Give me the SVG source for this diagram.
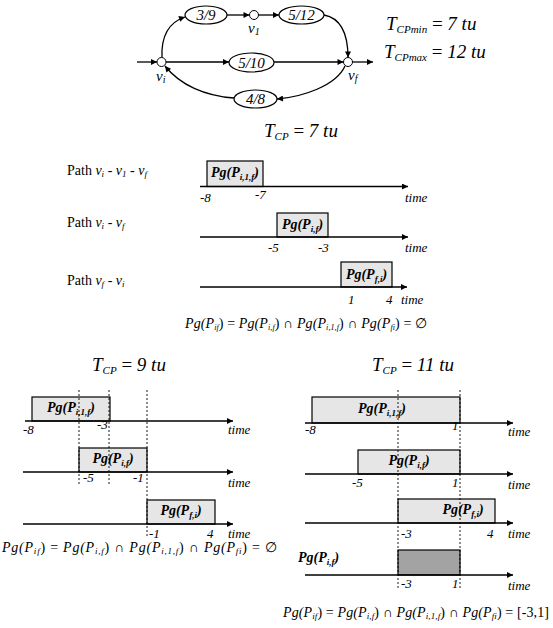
<svg xmlns="http://www.w3.org/2000/svg" width="553" height="628" viewBox="0 0 553 628">
<style>
text{font-family:"Liberation Serif","Times New Roman",Times,serif;fill:#000}
.i{font-style:italic}
.el{fill:#fff;stroke:#000;stroke-width:1.2}
.nd{fill:#fff;stroke:#000;stroke-width:1}
.ed{fill:none;stroke:#000;stroke-width:1.3}
.ax{fill:none;stroke:#000;stroke-width:1.3}
.bx{fill:#e6e6e6;stroke:#000;stroke-width:1.2}
.dk{fill:#a3a3a3;stroke:#000;stroke-width:1.2}
.ds{stroke:#000;stroke-width:0.9;stroke-dasharray:2,2}
.el-t{font-size:15px;font-style:italic;text-anchor:middle}
.bl{font-size:14px;font-style:italic;font-weight:bold;text-anchor:middle}
.bl2{font-size:14px;font-style:italic;font-weight:bold}
.n{font-size:13px;font-style:italic}
.tm{font-size:13px;font-style:italic}
.pl{font-size:14px}
.big{font-size:19px}
.fm{font-size:14px;font-style:italic}
</style>
<defs>
<marker id="a" viewBox="0 0 10 10" refX="10" refY="5" markerWidth="8" markerHeight="6" orient="auto" markerUnits="userSpaceOnUse"><path d="M0,0 L10,5 L0,10 z" fill="#000"/></marker>
</defs>

<g id="connectors">
<path class="ed" d="M137,62 L157,62" marker-end="url(#a)"/>
<path class="ed" d="M162,57.5 C161,35 170,22 185,17" marker-end="url(#a)"/>
<path class="ed" d="M227,15 L249.5,15" marker-end="url(#a)"/>
<path class="ed" d="M258.5,15 L279,15" marker-end="url(#a)"/>
<path class="ed" d="M324,15 C340,18 348,32 348,57.5" marker-end="url(#a)"/>
<path class="ed" d="M166,62 L229,62" marker-end="url(#a)"/>
<path class="ed" d="M274,62 L343.5,62" marker-end="url(#a)"/>
<path class="ed" d="M352.5,62 L373,62" marker-end="url(#a)"/>
<path class="ed" d="M345,66 C336,86 302,97 277,99" marker-end="url(#a)"/>
<path class="ed" d="M234,98 C205,96 180,85 165,66" marker-end="url(#a)"/>
</g>

<g id="node-vi"><circle class="nd" cx="161.5" cy="62" r="4.5"/><text x="156" y="81" class="i" font-size="15">v<tspan font-size="10" dy="2">i</tspan></text></g>
<g id="node-v1"><circle class="nd" cx="254" cy="15" r="4.5"/><text x="248" y="33" class="i" font-size="15">v<tspan font-size="10" dy="2">1</tspan></text></g>
<g id="node-vf"><circle class="nd" cx="348" cy="62" r="4.5"/><text x="348" y="80" class="i" font-size="15">v<tspan font-size="10" dy="2">f</tspan></text></g>
<g id="node-39"><ellipse class="el" cx="206" cy="15" rx="21" ry="9"/><text class="el-t" x="206" y="20">3/9</text></g>
<g id="node-512"><ellipse class="el" cx="301.5" cy="15" rx="22.5" ry="9"/><text class="el-t" x="301.5" y="20">5/12</text></g>
<g id="node-510"><ellipse class="el" cx="251.5" cy="62.5" rx="22.5" ry="9.5"/><text class="el-t" x="251.5" y="68">5/10</text></g>
<g id="node-48"><ellipse class="el" cx="255.5" cy="99" rx="21.5" ry="9"/><text class="el-t" x="255.5" y="104">4/8</text></g>

<g id="tcp-range">
<text x="386" y="30" class="big"><tspan class="i">T</tspan><tspan class="i" font-size="11" dy="3">CPmin</tspan><tspan dy="-3"> = </tspan><tspan class="i">7 tu</tspan></text>
<text x="384" y="58" class="big"><tspan class="i">T</tspan><tspan class="i" font-size="11" dy="3">CPmax</tspan><tspan dy="-3"> = </tspan><tspan class="i">12 tu</tspan></text>
</g>

<g id="case-7">
<text x="264" y="137" class="big"><tspan class="i">T</tspan><tspan class="i" font-size="11" dy="3">CP</tspan><tspan dy="-3"> = </tspan><tspan class="i">7 tu</tspan></text>
<text x="67" y="175" class="pl">Path <tspan class="i">v</tspan><tspan class="i" font-size="9" dy="2">i</tspan><tspan dy="-2"> - </tspan><tspan class="i">v</tspan><tspan class="i" font-size="9" dy="2">1</tspan><tspan dy="-2"> - </tspan><tspan class="i">v</tspan><tspan class="i" font-size="9" dy="2">f</tspan></text>
<text x="67" y="227" class="pl">Path <tspan class="i">v</tspan><tspan class="i" font-size="9" dy="2">i</tspan><tspan dy="-2"> - </tspan><tspan class="i">v</tspan><tspan class="i" font-size="9" dy="2">f</tspan></text>
<text x="67" y="285" class="pl">Path <tspan class="i">v</tspan><tspan class="i" font-size="9" dy="2">f</tspan><tspan dy="-2"> - </tspan><tspan class="i">v</tspan><tspan class="i" font-size="9" dy="2">i</tspan></text>

<g id="box-m1"><rect class="bx" x="207" y="161" width="56" height="25.5"/><text class="bl" x="235" y="177">Pg(P<tspan font-size="9" dy="3">i,1,f</tspan><tspan dy="-3">)</tspan></text></g>
<path class="ax" d="M200,186.5 L408,186.5" marker-end="url(#a)"/>
<text class="n" x="200" y="202">-8</text><text class="n" x="255" y="199">-7</text><text class="tm" x="405" y="202">time</text>

<g id="box-m2"><rect class="bx" x="277" y="213" width="51" height="24"/><text class="bl" x="302.5" y="229">Pg(P<tspan font-size="9" dy="3">i,f</tspan><tspan dy="-3">)</tspan></text></g>
<path class="ax" d="M200,237 L408,237" marker-end="url(#a)"/>
<text class="n" x="268" y="252">-5</text><text class="n" x="318" y="252">-3</text><text class="tm" x="405" y="252">time</text>

<g id="box-m3"><rect class="bx" x="341" y="262" width="51" height="25"/><text class="bl" x="366.5" y="279">Pg(P<tspan font-size="9" dy="3">f,i</tspan><tspan dy="-3">)</tspan></text></g>
<path class="ax" d="M200,287 L407,287" marker-end="url(#a)"/>
<text class="n" x="348" y="304">1</text><text class="n" x="386" y="304">4</text><text class="tm" x="401" y="304">time</text>

<text class="fm" x="185" y="328" textLength="242" lengthAdjust="spacing">Pg(P<tspan font-size="8" dy="2">if</tspan><tspan dy="-2" font-style="normal">) = </tspan>Pg(P<tspan font-size="8" dy="2">i,f</tspan><tspan dy="-2" font-style="normal">) ∩ </tspan>Pg(P<tspan font-size="8" dy="2">i,1,f</tspan><tspan dy="-2" font-style="normal">) ∩ </tspan>Pg(P<tspan font-size="8" dy="2">fi</tspan><tspan dy="-2" font-style="normal">) = ∅</tspan></text>
</g>

<g id="case-9">
<text x="92" y="371" class="big"><tspan class="i">T</tspan><tspan class="i" font-size="11" dy="3">CP</tspan><tspan dy="-3"> = </tspan><tspan class="i">9 tu</tspan></text>
<g id="box-l1"><rect class="bx" x="32" y="397" width="78" height="24"/><text class="bl" x="71" y="412">Pg(P<tspan font-size="9" dy="3">i,1,f</tspan><tspan dy="-3">)</tspan></text></g>
<path class="ax" d="M25,421 L233,421" marker-end="url(#a)"/>
<text class="n" x="23" y="434">-8</text><text class="n" x="97" y="429">-3</text><text class="tm" x="228" y="434">time</text>

<g id="box-l2"><rect class="bx" x="79" y="448" width="68" height="24"/><text class="bl" x="113" y="463">Pg(P<tspan font-size="9" dy="3">i,f</tspan><tspan dy="-3">)</tspan></text></g>
<path class="ax" d="M23,472 L233,472" marker-end="url(#a)"/>
<text class="n" x="83" y="482">-5</text><text class="n" x="133" y="482">-1</text><text class="tm" x="228" y="487">time</text>

<g id="box-l3"><rect class="bx" x="147" y="500" width="68" height="24"/><text class="bl" x="181" y="515">Pg(P<tspan font-size="9" dy="3">f,i</tspan><tspan dy="-3">)</tspan></text></g>
<path class="ax" d="M23,524 L233,524" marker-end="url(#a)"/>
<text class="n" x="149" y="538">-1</text><text class="n" x="207" y="538">4</text><text class="tm" x="228" y="538">time</text>

<line class="ds" x1="79" y1="390" x2="79" y2="484"/>
<line class="ds" x1="109" y1="390" x2="109" y2="484"/>
<line class="ds" x1="147" y1="390" x2="147" y2="538"/>

<text class="fm" font-size="16" x="2" y="552" textLength="275" lengthAdjust="spacing">Pg(P<tspan font-size="9" dy="2">if</tspan><tspan dy="-2" font-style="normal">) = </tspan>Pg(P<tspan font-size="9" dy="2">i,f</tspan><tspan dy="-2" font-style="normal">) ∩ </tspan>Pg(P<tspan font-size="9" dy="2">i,1,f</tspan><tspan dy="-2" font-style="normal">) ∩ </tspan>Pg(P<tspan font-size="9" dy="2">fi</tspan><tspan dy="-2" font-style="normal">) = ∅</tspan></text>
</g>

<g id="case-11">
<text x="372" y="371" class="big"><tspan class="i">T</tspan><tspan class="i" font-size="11" dy="3">CP</tspan><tspan dy="-3"> = </tspan><tspan class="i">11 tu</tspan></text>
<g id="box-r1"><rect class="bx" x="312" y="397" width="148" height="26"/><text class="bl" x="382" y="413">Pg(P<tspan font-size="9" dy="3">i,1,f</tspan><tspan dy="-3">)</tspan></text></g>
<path class="ax" d="M305,423 L513,423" marker-end="url(#a)"/>
<text class="n" x="305" y="434">-8</text><text class="n" x="452" y="430">1</text><text class="tm" x="508" y="436">time</text>

<g id="box-r2"><rect class="bx" x="358" y="450" width="102" height="24"/><text class="bl" x="409" y="465">Pg(P<tspan font-size="9" dy="3">i,f</tspan><tspan dy="-3">)</tspan></text></g>
<path class="ax" d="M305,474 L513,474" marker-end="url(#a)"/>
<text class="n" x="352" y="487">-5</text><text class="n" x="452" y="487">1</text><text class="tm" x="508" y="489">time</text>

<g id="box-r3"><rect class="bx" x="398" y="499" width="97" height="24"/><text class="bl" x="463" y="514">Pg(P<tspan font-size="9" dy="3">f,i</tspan><tspan dy="-3">)</tspan></text></g>
<path class="ax" d="M305,523 L513,523" marker-end="url(#a)"/>
<text class="n" x="401" y="538">-3</text><text class="n" x="487" y="538">4</text><text class="tm" x="508" y="538">time</text>

<g id="box-r4"><rect class="dk" x="398" y="550" width="62" height="25"/></g>
<text class="bl2" x="298" y="562">Pg(P<tspan font-size="9" dy="3">i,f</tspan><tspan dy="-3">)</tspan></text>
<path class="ax" d="M305,575 L513,575" marker-end="url(#a)"/>
<text class="n" x="401" y="588">-3</text><text class="n" x="452" y="588">1</text><text class="tm" x="508" y="590">time</text>

<line class="ds" x1="398" y1="390" x2="398" y2="590"/>
<line class="ds" x1="460" y1="390" x2="460" y2="590"/>

<text class="fm" font-size="15" x="283" y="617" textLength="266" lengthAdjust="spacing">Pg(P<tspan font-size="9" dy="2">if</tspan><tspan dy="-2" font-style="normal">) = </tspan>Pg(P<tspan font-size="9" dy="2">i,f</tspan><tspan dy="-2" font-style="normal">) ∩ </tspan>Pg(P<tspan font-size="9" dy="2">i,1,f</tspan><tspan dy="-2" font-style="normal">) ∩ </tspan>Pg(P<tspan font-size="9" dy="2">fi</tspan><tspan dy="-2" font-style="normal">) = [-3,1]</tspan></text>
</g>
</svg>
